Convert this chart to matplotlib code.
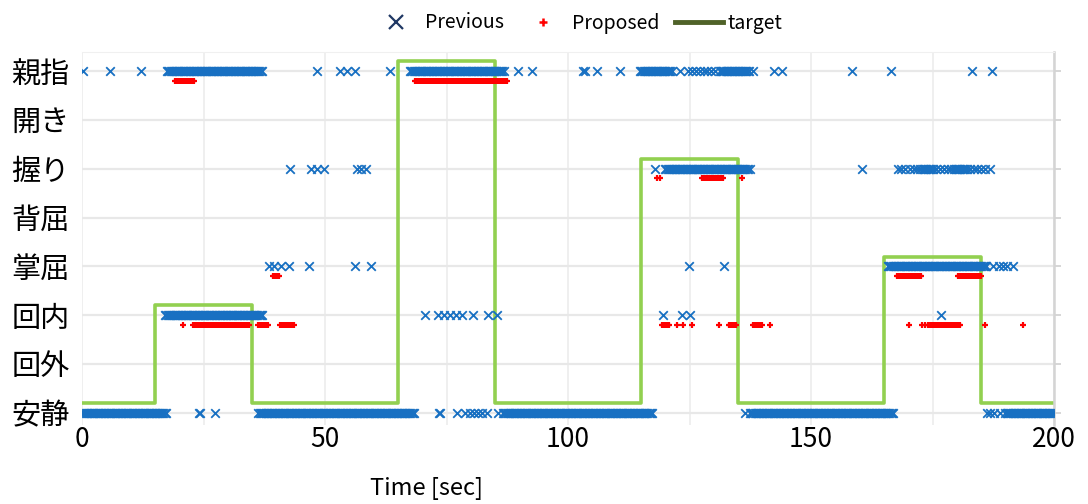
import numpy as np
import matplotlib
matplotlib.use("Agg")
import matplotlib.pyplot as plt
from matplotlib.lines import Line2D

plt.rcParams["font.family"] = ["Noto Sans CJK JP", "DejaVu Sans"]

# Motion classes, bottom to top
classes = ["安静", "回外", "回内", "掌屈", "背屈", "握り", "開き", "親指"]

# Classifier output is sampled at 4 Hz; contiguous stretches are stored as runs
SAMPLE_PERIOD = 0.25

# Previous method: (class index, start s, end s) runs and (class index, t) single outputs
prev_runs = [
    (7, 17.5, 37.2), (7, 67.5, 86.9), (7, 114.8, 121.3), (7, 131.2, 137.2),
    (5, 120.0, 137.0), (5, 173.0, 175.0), (5, 179.5, 182.0),
    (3, 165.8, 186.2),
    (2, 17.1, 37.3),
    (0, 0.0, 17.4), (0, 36.3, 68.5), (0, 86.6, 117.5), (0, 137.4, 166.9),
    (0, 190.0, 200.0),
]
prev_points = [
    (7, 0.2), (7, 5.8), (7, 12.1), (7, 48.3), (7, 53.0), (7, 54.5), (7, 56.2),
    (7, 63.3), (7, 89.7), (7, 92.6), (7, 103.0), (7, 103.5), (7, 106.0),
    (7, 110.6), (7, 123.0), (7, 124.7), (7, 125.5), (7, 126.3), (7, 127.1),
    (7, 127.9), (7, 128.7), (7, 129.5), (7, 130.3), (7, 138.0), (7, 142.3),
    (7, 144.1), (7, 158.4), (7, 166.5), (7, 183.2), (7, 187.3),
    (5, 42.8), (5, 47.1), (5, 48.4), (5, 49.8), (5, 56.6), (5, 57.4), (5, 58.5),
    (5, 118.0), (5, 137.4), (5, 160.4),
    (5, 167.9), (5, 168.6), (5, 169.4), (5, 170.3), (5, 171.1), (5, 171.9),
    (5, 172.5), (5, 175.8), (5, 176.6), (5, 177.4), (5, 178.1), (5, 178.8),
    (5, 182.7), (5, 183.5), (5, 184.2), (5, 185.0), (5, 185.8), (5, 186.8),
    (3, 38.4), (3, 39.5), (3, 41.0), (3, 42.6), (3, 46.7), (3, 56.2), (3, 59.5),
    (3, 124.9), (3, 132.1),
    (3, 187.4), (3, 188.6), (3, 189.5), (3, 190.4), (3, 191.5),
    (2, 70.6), (2, 73.3), (2, 74.5), (2, 75.7), (2, 76.9), (2, 78.2),
    (2, 80.4), (2, 83.5), (2, 85.3), (2, 119.5), (2, 123.4), (2, 125.1),
    (2, 176.7),
    (0, 24.0), (0, 24.3), (0, 27.3), (0, 73.4), (0, 73.6), (0, 77.1),
    (0, 78.8), (0, 79.8), (0, 80.6), (0, 81.5), (0, 82.4), (0, 83.3),
    (0, 85.6), (0, 136.4), (0, 186.2), (0, 186.9), (0, 187.6), (0, 188.9),
]

# Proposed method
prop_runs = [
    (7, 19.1, 23.3), (7, 68.5, 87.7),
    (5, 127.6, 131.9),
    (3, 39.3, 40.7), (3, 167.6, 172.7), (3, 180.2, 185.1),
    (2, 22.9, 34.6), (2, 36.3, 38.3), (2, 40.8, 43.6), (2, 119.3, 121.0),
    (2, 133.1, 134.8), (2, 138.1, 139.9), (2, 174.1, 180.7),
]
prop_points = [
    (5, 118.3), (5, 119.0), (5, 135.9),
    (2, 20.7), (2, 122.4), (2, 123.7), (2, 125.5), (2, 131.1), (2, 141.6),
    (2, 170.2), (2, 172.8), (2, 173.5), (2, 185.9), (2, 193.6),
]

# Instructed motion: change times and class held until the next change
target_times = [0, 15, 35, 65, 85, 115, 135, 165, 185, 200]
target_classes = [0, 2, 0, 7, 0, 5, 0, 3, 0, 0]

# Vertical offsets so the three series do not sit on top of each other
TARGET_OFFSET = 0.2
PROP_OFFSET = -0.2


def expand(runs, points):
    t, c = [], []
    for k, a, b in runs:
        ts = np.arange(a, b + 1e-9, SAMPLE_PERIOD)
        t.extend(ts)
        c.extend([k] * len(ts))
    for k, x in points:
        t.append(x)
        c.append(k)
    return np.array(t), np.array(c, dtype=float)


prev_t, prev_c = expand(prev_runs, prev_points)
prop_t, prop_c = expand(prop_runs, prop_points)

fig = plt.figure(figsize=(10.88, 5.04), dpi=100)
ax = fig.add_axes([82 / 1088, 1 - 425 / 504, (1054 - 82) / 1088, (425 - 52) / 504])

ax.step(target_times, np.array(target_classes) + TARGET_OFFSET, where="post",
        color="#92D050", lw=2.6, zorder=2)
ax.scatter(prev_t, prev_c, marker="x", s=38, color="#1870C2", linewidths=1.3,
           zorder=3)
ax.scatter(prop_t, prop_c + PROP_OFFSET, marker="+", s=22, color="#FF0000",
           linewidths=1.6, zorder=4)

ax.set_xlim(0, 200)
ax.set_ylim(-0.25, 7.39)
ax.set_xticks([0, 50, 100, 150, 200])
ax.set_xticks(np.arange(0, 201, 25), minor=True)
ax.set_yticks(range(len(classes)))
ax.set_yticklabels(classes, fontsize=21)
ax.tick_params(axis="x", which="both", length=0, labelsize=19, pad=1)
ax.tick_params(axis="y", left=False, right=True, length=5, color="#D0D0D0",
               width=1.2, pad=4)
ax.grid(True, which="both", axis="x", color="#EBEBEB", lw=1.1)
ax.grid(True, axis="y", color="#E8E8E8", lw=1.6)
ax.set_axisbelow(True)
for side in ["left", "bottom"]:
    ax.spines[side].set_visible(False)
ax.spines["top"].set_color("#F0F0F0")
ax.spines["right"].set_color("#D4D4D4")
ax.spines["right"].set_linewidth(1.8)

fig.text(427 / 1088, 1 - 489 / 504, "Time [sec]", ha="center", va="center",
         fontsize=17)

handles = [
    Line2D([], [], ls="none", marker="x", ms=10, mew=1.6, color="#203864"),
    Line2D([], [], ls="none", marker="+", ms=6, mew=1.8, color="#FF0000"),
    Line2D([], [], color="#4F6228", lw=3.5),
]
fig.legend(handles, ["Previous", "Proposed", "target"], loc="center",
           bbox_to_anchor=(577 / 1088, 1 - 23 / 504), ncol=3, frameon=False,
           fontsize=14, handlelength=2.5, handletextpad=0.2, columnspacing=0.8)

fig.savefig("out.png", dpi=100)
